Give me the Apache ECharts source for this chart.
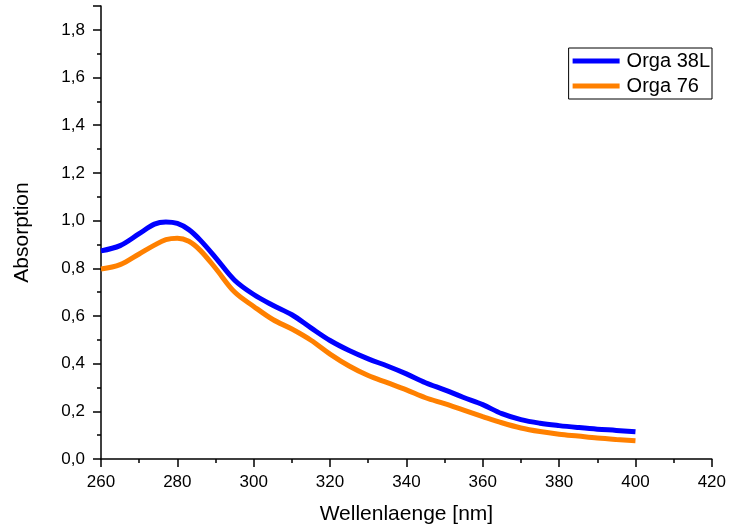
<!DOCTYPE html>
<html><head><meta charset="utf-8">
<script src="https://cdn.jsdelivr.net/npm/echarts@6/dist/echarts.min.js"></script>
<style>html,body{margin:0;padding:0;background:#fff}#c{width:729px;height:530px}</style>
</head><body><div id="c"></div>
<script>
const wavelengths = [260,265,270,274,277,280,283,286,290,295,300,305,310,315,320,325,330,335,340,345,350,355,360,365,370,375,380,385,390,395,400];
const orga38L = [0.873,0.895,0.945,0.985,0.994,0.988,0.962,0.918,0.845,0.75,0.69,0.645,0.605,0.55,0.497,0.455,0.42,0.39,0.357,0.32,0.29,0.258,0.228,0.19,0.165,0.15,0.14,0.132,0.125,0.12,0.114];
const orga76 = [0.797,0.815,0.86,0.897,0.92,0.926,0.913,0.875,0.8,0.7,0.64,0.585,0.545,0.498,0.44,0.39,0.35,0.32,0.29,0.257,0.232,0.205,0.178,0.152,0.13,0.115,0.104,0.096,0.088,0.082,0.077];
const seriesNames = ['Orga 38L','Orga 76'];

const font = 'Liberation Sans, Arial, sans-serif';
const chart = echarts.init(document.getElementById('c'), null, {renderer:'canvas'});
chart.setOption({
  animation:false,
  backgroundColor:'#fff',
  grid:{left:101,right:16,top:6,bottom:69,containLabel:false},
  legend:{
    orient:'vertical', right:17, top:48,
    data:seriesNames,
    icon:'rect', itemWidth:47, itemHeight:5, itemGap:5,
    borderColor:'#000', borderWidth:1, borderRadius:0,
    padding:[3,2,3,4],
    textStyle:{fontFamily:font,fontSize:20,color:'#000',padding:[0,0,0,2]}
  },
  xAxis:{
    type:'value', min:260, max:420, interval:20,
    name:'Wellenlaenge [nm]', nameLocation:'middle', nameGap:45,
    nameTextStyle:{fontFamily:font,fontSize:21,color:'#000'},
    axisLine:{lineStyle:{color:'#000',width:1.5}},
    axisTick:{length:8,lineStyle:{color:'#000',width:1.5}},
    minorTick:{show:true,splitNumber:2,length:4,lineStyle:{color:'#000',width:1.5}},
    axisLabel:{fontFamily:font,fontSize:17,color:'#000',margin:15},
    splitLine:{show:false}
  },
  yAxis:{
    type:'value', min:0, max:1.9, interval:0.2,
    name:'Absorption', nameLocation:'middle', nameGap:68, nameRotate:90,
    nameTextStyle:{fontFamily:font,fontSize:21,color:'#000'},
    axisLine:{show:true,lineStyle:{color:'#000',width:1.5}},
    axisTick:{show:true,length:8,lineStyle:{color:'#000',width:1.5}},
    minorTick:{show:true,splitNumber:2,length:4,lineStyle:{color:'#000',width:1.5}},
    axisLabel:{fontFamily:font,fontSize:17,color:'#000',margin:16,showMaxLabel:false,
      formatter:v=>v.toFixed(1).replace('.',',')},
    splitLine:{show:false}
  },
  series:[
    {name:seriesNames[0],type:'line',smooth:0.35,showSymbol:false,
     data:wavelengths.map((x,i)=>[x,orga38L[i]]),
     lineStyle:{color:'#0000ff',width:5},itemStyle:{color:'#0000ff'}},
    {name:seriesNames[1],type:'line',smooth:0.35,showSymbol:false,
     data:wavelengths.map((x,i)=>[x,orga76[i]]),
     lineStyle:{color:'#ff8000',width:5},itemStyle:{color:'#ff8000'}}
  ]
});
</script></body></html>
